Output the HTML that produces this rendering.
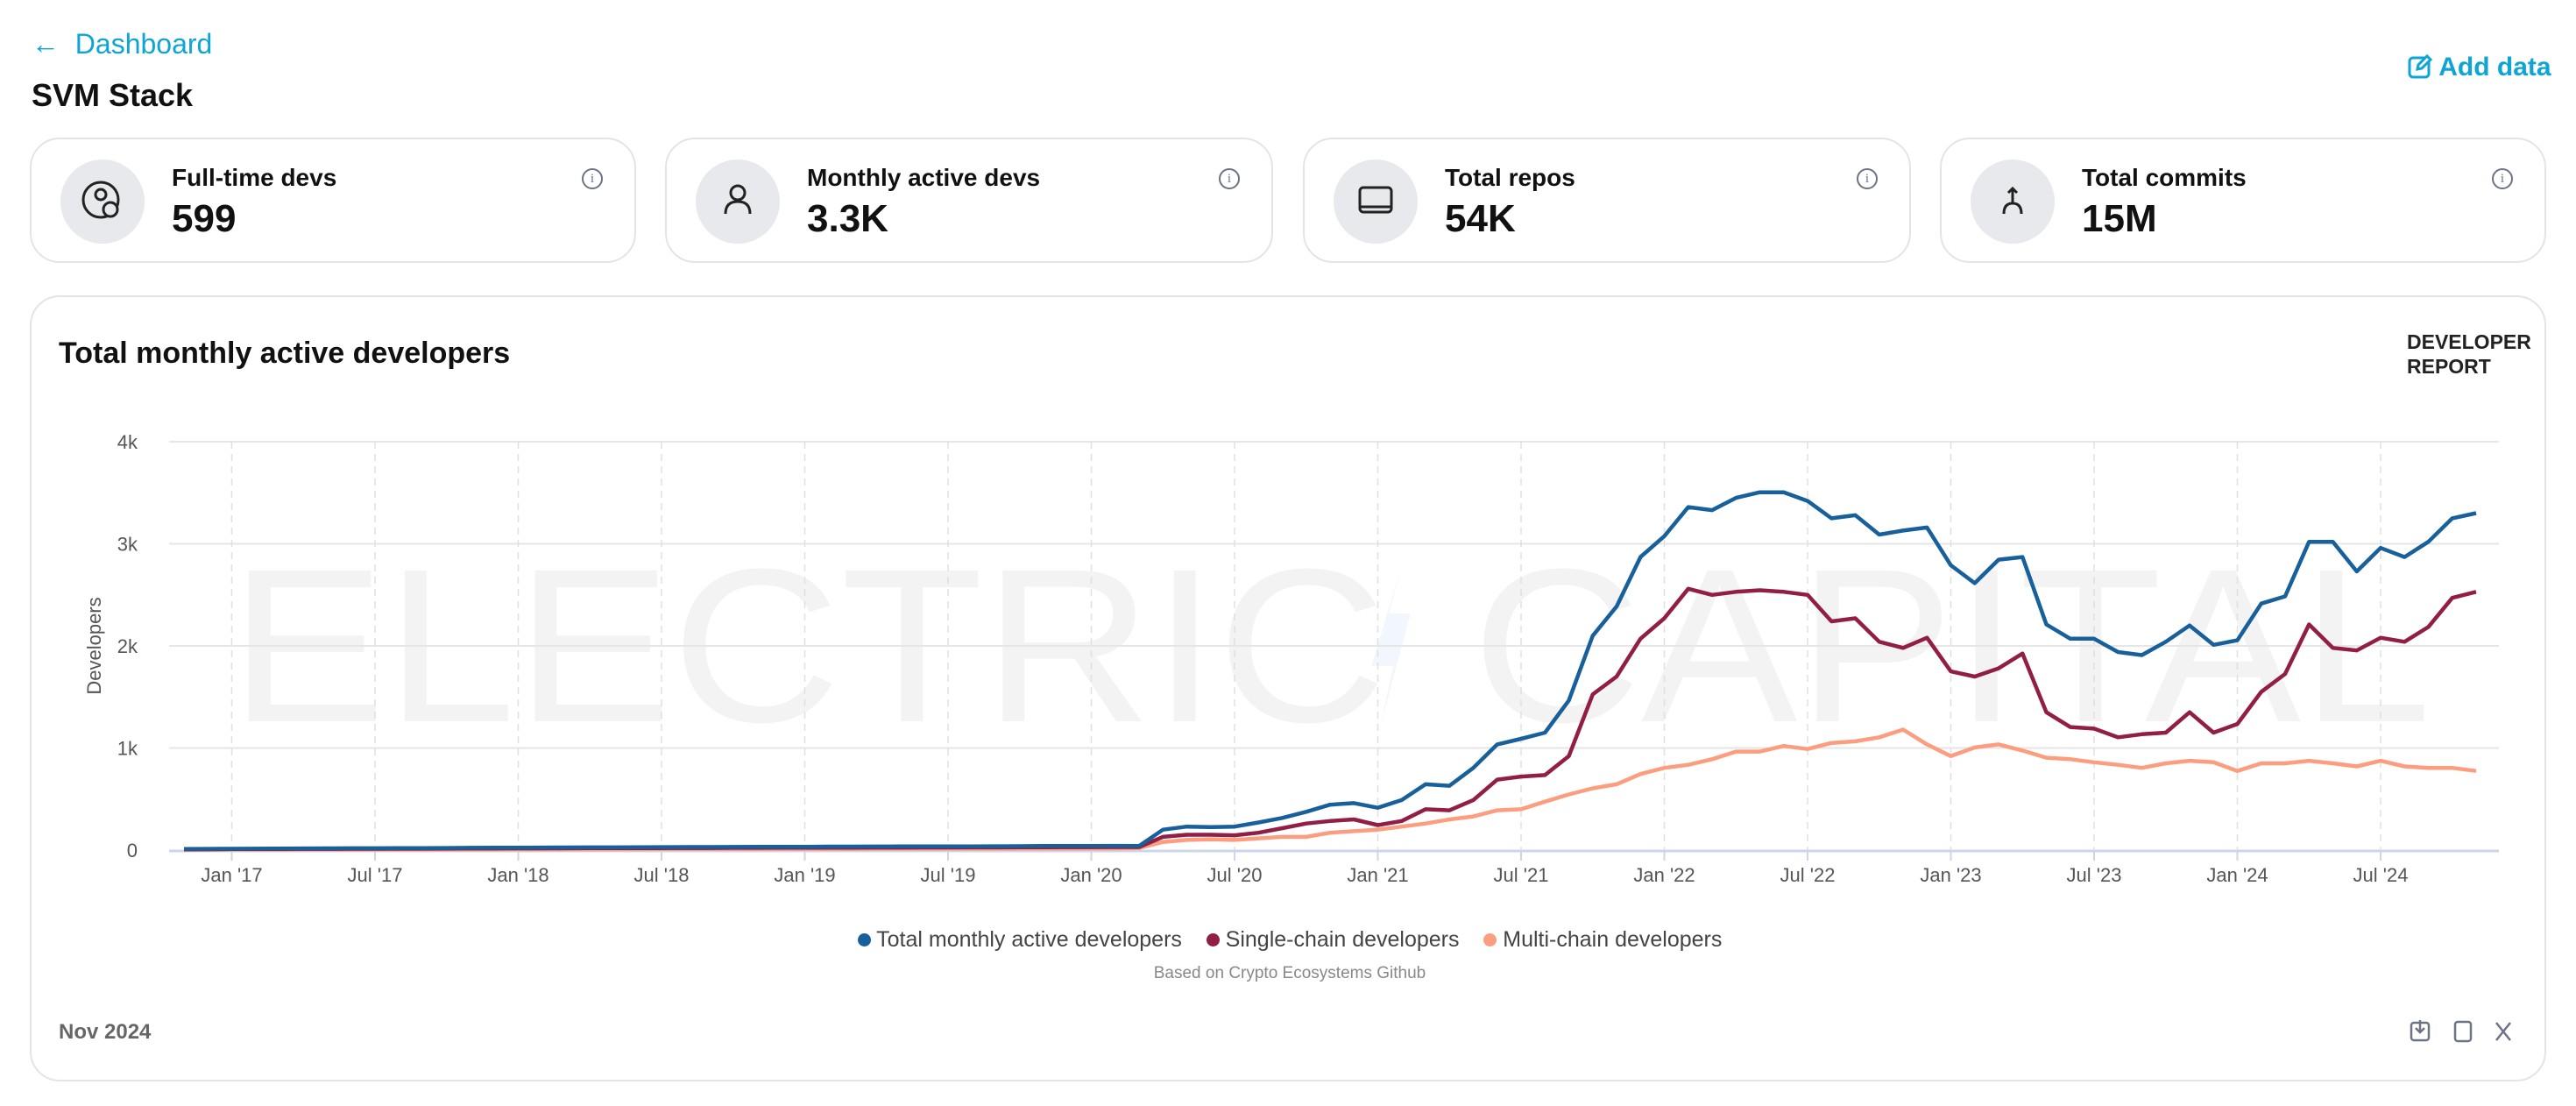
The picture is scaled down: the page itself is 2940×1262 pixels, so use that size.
<!DOCTYPE html>
<html><head><meta charset="utf-8">
<style>
html,body{margin:0;padding:0;background:#fff;width:2940px;height:1262px;overflow:hidden;font-family:"Liberation Sans",sans-serif;color:#111;}
.abs{position:absolute;}
.card{position:absolute;top:157px;height:143px;border:2px solid #e4e4e8;border-radius:34px;box-sizing:border-box;background:#fff;}
.ic{position:absolute;left:33px;top:23px;width:96px;height:96px;border-radius:50%;background:#e8e9ec;}
.lbl{position:absolute;left:160px;top:28px;font-size:28px;font-weight:bold;}
.val{position:absolute;left:160px;top:66px;font-size:44px;font-weight:bold;}
.info{position:absolute;right:36px;top:33px;width:20px;height:20px;border:2px solid #6b7385;border-radius:50%;font-size:15px;color:#6b7385;text-align:center;line-height:20px;font-family:"Liberation Serif",serif;}
</style></head><body>
<div class="abs" style="left:36px;top:32px;font-size:32px;color:#0ea5d6;">&#8592;&nbsp; Dashboard</div>
<div class="abs" style="left:36px;top:88px;font-size:36px;font-weight:bold;">SVM Stack</div>
<div class="abs" style="left:2748px;top:60px;font-size:30px;font-weight:bold;color:#0ea5d6;">
<svg width="28" height="30" viewBox="0 0 28 30" style="vertical-align:-4px"><rect x="2" y="6" width="22" height="22" rx="4" fill="none" stroke="#0ea5d6" stroke-width="3"/><path d="M11 19 L12 14 L22 4 L26 8 L16 18 Z" fill="#fff" stroke="#0ea5d6" stroke-width="3"/></svg> Add data</div>

<div class="card" style="left:34px;width:692px;">
<div class="ic"><svg width="96" height="96"><circle cx="46" cy="46" r="20" fill="none" stroke="#222" stroke-width="3"/><circle cx="46" cy="40" r="6" fill="none" stroke="#222" stroke-width="3"/><circle cx="57" cy="57" r="8" fill="#e8e9ec" stroke="#222" stroke-width="3"/></svg></div>
<div class="lbl">Full-time devs</div><div class="val">599</div><div class="info">i</div></div>
<div class="card" style="left:759px;width:694px;">
<div class="ic"><svg width="96" height="96"><circle cx="48" cy="38" r="8" fill="none" stroke="#222" stroke-width="3"/><path d="M34 62 Q34 48 48 48 Q62 48 62 62" fill="none" stroke="#222" stroke-width="3"/></svg></div>
<div class="lbl">Monthly active devs</div><div class="val">3.3K</div><div class="info">i</div></div>
<div class="card" style="left:1487px;width:694px;">
<div class="ic"><svg width="96" height="96"><rect x="30" y="32" width="36" height="28" rx="4" fill="none" stroke="#222" stroke-width="3"/><line x1="30" y1="54" x2="66" y2="54" stroke="#222" stroke-width="3"/></svg></div>
<div class="lbl">Total repos</div><div class="val">54K</div><div class="info">i</div></div>
<div class="card" style="left:2214px;width:692px;">
<div class="ic"><svg width="96" height="96"><path d="M48 34 L48 50 M38 62 Q38 50 48 50 Q58 50 58 62 M43 38 L48 33 L53 38" fill="none" stroke="#222" stroke-width="3"/></svg></div>
<div class="lbl">Total commits</div><div class="val">15M</div><div class="info">i</div></div>

<div class="abs" style="left:34px;top:337px;width:2872px;height:897px;border:2px solid #e4e4e8;border-radius:34px;box-sizing:border-box;"></div>
<div class="abs" style="left:67px;top:384px;font-size:34px;font-weight:bold;">Total monthly active developers</div>
<div class="abs" style="left:2747px;top:376px;font-size:23px;font-weight:bold;line-height:28px;color:#222;">DEVELOPER<br>REPORT</div>

<svg class="abs" style="left:0;top:0" width="2940" height="1262">
<g id="wm">
<text x="262" y="823" font-size="250" fill="#f3f3f3" font-family="Liberation Sans,sans-serif" textLength="1320" lengthAdjust="spacingAndGlyphs">ELECTRIC</text>
<polygon points="1600,645 1565,760 1590,760 1575,830 1610,700 1585,700" fill="#f2f7fd"/>
<text x="1680" y="823" font-size="250" fill="#f3f3f3" font-family="Liberation Sans,sans-serif" textLength="1095" lengthAdjust="spacingAndGlyphs">CAPITAL</text>
</g>
<g id="grid"></g><g id="lines"></g><g id="labels"></g>
<text x="115" y="737" transform="rotate(-90 115 737)" text-anchor="middle" font-size="22" fill="#555">Developers</text>
</svg>

<div class="abs" style="left:0;width:2944px;top:1058px;text-align:center;font-size:25px;color:#444;white-space:nowrap;">
<span><span style="display:inline-block;width:15px;height:15px;border-radius:50%;background:#17609b;"></span> Total monthly active developers</span>&nbsp;&nbsp;&nbsp;
<span><span style="display:inline-block;width:15px;height:15px;border-radius:50%;background:#921d45;"></span> Single-chain developers</span>&nbsp;&nbsp;&nbsp;
<span><span style="display:inline-block;width:15px;height:15px;border-radius:50%;background:#fc9d7f;"></span> Multi-chain developers</span></div>
<div class="abs" style="left:0;width:2944px;top:1100px;text-align:center;font-size:19px;color:#888;">Based on Crypto Ecosystems Github</div>
<div class="abs" style="left:67px;top:1164px;font-size:24px;color:#666;font-weight:bold;">Nov 2024</div>
<svg class="abs" style="left:2748px;top:1162px" width="130" height="30">
<g fill="none" stroke="#6b7385" stroke-width="2.5"><rect x="4" y="5" width="20" height="20" rx="3"/><path d="M14 2 L14 16 M9 11 L14 16 L19 11"/></g>
<g fill="none" stroke="#6b7385" stroke-width="2.5"><rect x="54" y="4" width="18" height="22" rx="3"/></g>
<g stroke="#6b7385" stroke-width="2.5"><path d="M101 5 L117 25 M117 5 L101 25"/></g>
</svg>

<script>
const tickLabels = ["Jan '17","Jul '17","Jan '18","Jul '18","Jan '19","Jul '19","Jan '20","Jul '20","Jan '21","Jul '21","Jan '22","Jul '22","Jan '23","Jul '23","Jan '24","Jul '24"];
const yTicks = [0,1000,2000,3000,4000];
const yTickLabels = ["0","1k","2k","3k","4k"];
// monthly, Nov 2016 .. Nov 2024
const totalDevs = [10,12,13,14,15,16,17,18,18,19,20,21,22,23,24,25,26,27,27,28,29,30,30,31,32,32,33,34,34,35,36,36,37,37,38,39,40,40,41,42,
40,200,230,225,230,270,315,375,445,460,415,490,645,630,805,1035,1090,1150,1465,2100,2385,2870,3075,3360,3330,3450,3505,3505,3420,3250,3280,3090,3130,3160,2790,2615,2845,2870,2210,2070,2070,1940,1910,2040,2200,2010,2055,2415,2485,3020,3020,2730,2960,2870,3020,3250,3300];
const singleChain = [8,9,10,10,11,12,12,13,13,14,14,15,16,16,17,17,18,19,19,20,20,21,21,22,22,23,23,24,24,25,25,26,26,27,27,28,28,29,29,30,
30,130,150,150,145,170,215,260,285,300,245,285,400,390,490,690,720,735,920,1525,1700,2070,2270,2560,2500,2530,2545,2530,2500,2240,2270,2040,1980,2080,1750,1700,1780,1925,1350,1205,1190,1105,1135,1150,1350,1150,1235,1550,1725,2210,1980,1955,2080,2040,2185,2470,2530];
const multiChain = [3,3,4,4,4,5,5,5,6,6,6,7,7,7,8,8,8,9,9,9,10,10,10,11,11,11,12,12,12,13,13,13,14,14,14,15,15,15,16,16,
20,80,100,105,100,115,130,130,170,185,200,230,260,300,330,390,400,475,545,605,645,745,805,835,890,965,965,1020,990,1050,1065,1105,1180,1035,920,1005,1035,975,905,890,860,835,805,850,875,860,775,850,850,875,850,820,875,820,805,805,775];

const X0=264.5, MW=27.25, Y0=970, YK=0.1165, L=193, R=2852;
const xm = i => X0 + (i-2)*MW;
const yv = v => Y0 - v*YK;
const NS="http://www.w3.org/2000/svg";
function mk(t,a){const e=document.createElementNS(NS,t);for(const k in a)e.setAttribute(k,a[k]);return e;}
const grid=document.getElementById('grid'), labels=document.getElementById('labels'), lines=document.getElementById('lines');
yTicks.forEach((v,k)=>{
  if(v>0){const g=mk('line',{x1:L,x2:R,y1:yv(v),y2:yv(v),stroke:'#e6e6e6','stroke-width':2});
  
  
  grid.appendChild(g);}
  const t=mk('text',{x:157,y:yv(v)+8,'text-anchor':'end','font-size':22,fill:'#555'});
  t.textContent=yTickLabels[k];
  
  
  labels.appendChild(t);
});
tickLabels.forEach((s,k)=>{
  const x=xm(2+k*6);
  const g=mk('line',{x1:x,x2:x,y1:yv(4000),y2:Y0,stroke:'#e0e0e0','stroke-width':1.5,'stroke-dasharray':'8,6'});
  
  
  grid.appendChild(g);
  const tk=mk('line',{x1:x,x2:x,y1:Y0,y2:Y0+12,stroke:'#ccd6eb','stroke-width':2});
  
  
  grid.appendChild(tk);
  const t=mk('text',{x:x,y:1006,'text-anchor':'middle','font-size':22,fill:'#555'});
  t.textContent=s;
  
  
  labels.appendChild(t);
});
const ax=mk('line',{x1:L,x2:R,y1:Y0+1,y2:Y0+1,stroke:'#ccd6eb','stroke-width':3});


grid.appendChild(ax);
[[multiChain,'#fc9d7f','line-multi-chain'],[singleChain,'#921d45','line-single-chain'],[totalDevs,'#17609b','line-total']].forEach(([d,c,n])=>{
  const p=mk('path',{d:d.map((v,i)=>(i?'L':'M')+xm(i).toFixed(1)+','+yv(v).toFixed(1)).join(' '),fill:'none',stroke:c,'stroke-width':4.5,'stroke-linejoin':'round'});
  
  
  lines.appendChild(p);
});
</script>
</body></html>
